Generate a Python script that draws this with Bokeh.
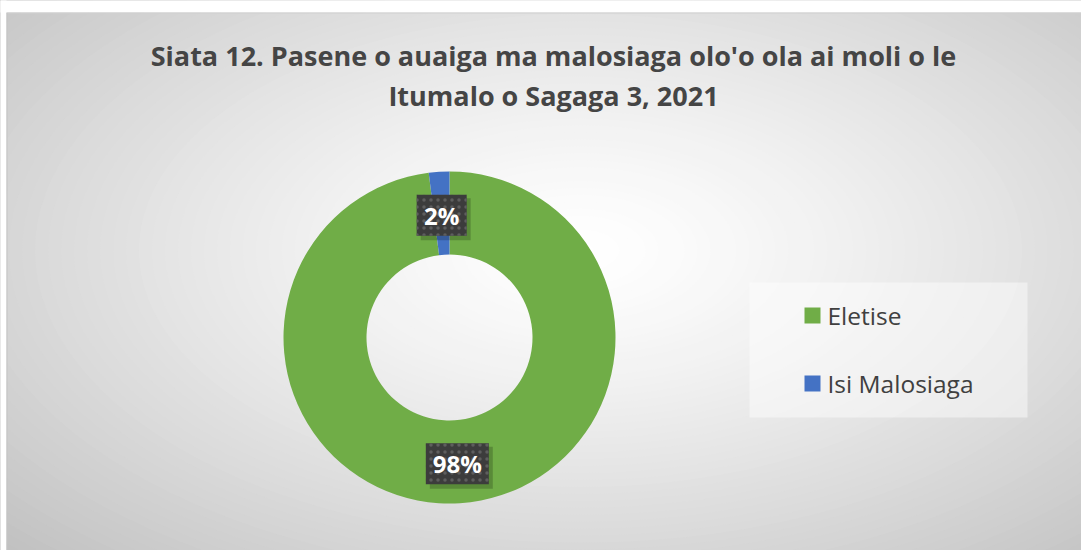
import numpy as np
from bokeh.plotting import figure
from bokeh.models import Range1d, ColumnDataSource
from bokeh.core.properties import value
from bokeh.embed import file_html
from bokeh.resources import INLINE

# ---------------- data ----------------
categories = ["Eletise", "Isi Malosiaga"]
percents = [98, 2]
colors = ["#70AD47", "#4472C4"]
title_lines = ["Siata 12. Pasene o auaiga ma malosiaga olo'o ola ai moli o le",
               "Itumalo o Sagaga 3, 2021"]

# ---------------- layout ----------------
W, H = 1081, 550


def Y(iy):
    """image-y (top-down) -> data-y (bottom-up)"""
    return H - iy


p = figure(width=W, height=H, x_range=Range1d(0, W), y_range=Range1d(0, H),
           output_backend="svg", toolbar_location=None, min_border=0,
           x_axis_location=None, y_axis_location=None)
p.grid.visible = False
p.outline_line_color = None
p.background_fill_color = "white"
p.border_fill_color = "white"

# ---- background radial gradient (chart area) ----
gcx, gcy = 580, Y(250)
ga, gb = 560, 300
ts = np.linspace(1.6, 0.0, 70)[:-1]
for t in ts:
    g = 255 - 60 * min(t / 1.4, 1.15) ** 1.3
    g = int(max(185, min(255, round(g))))
    col = "#%02x%02x%02x" % (g, g, g)
    p.ellipse(x=gcx, y=gcy, width=2 * ga * t, height=2 * gb * t,
              fill_color=col, line_color=None)

# white page strip around the chart area + chart border
p.quad(left=-5, right=1200, bottom=Y(12), top=H + 5, fill_color="white", line_color=None)
p.quad(left=-5, right=6, bottom=-5, top=H + 5, fill_color="white", line_color=None)
p.segment(x0=6, y0=Y(12.5), x1=1200, y1=Y(12.5), line_color="#d0d0d0", line_width=1)
p.segment(x0=6.5, y0=Y(12.5), x1=6.5, y1=-5, line_color="#c4c4c4", line_width=1)

# ---- donut ----
cx, cy = 449, Y(337)
r_out, r_in = 166, 83
vals = np.array(percents, dtype=float)
frac = vals / vals.sum()
cum_after = np.cumsum(frac)
cum_before = cum_after - frac
start = np.pi / 2 - 2 * np.pi * cum_before
end = np.pi / 2 - 2 * np.pi * cum_after
src = ColumnDataSource(dict(cat=categories, val=percents, color=colors,
                            start=start, end=end))
p.annular_wedge(x=cx, y=cy, inner_radius=r_in, outer_radius=r_out,
                start_angle="start", end_angle="end", direction="clock",
                fill_color="color", line_color=None, source=src)

# ---- data labels ----
mid = (start + end) / 2
r_mid = (r_in + r_out) / 2
lx = cx + r_mid * np.cos(mid)
ly = cy + r_mid * np.sin(mid) - 2
labels = ["%d%%" % v for v in percents]
bw = [13 * len(s) + 24 for s in labels]
lsrc = ColumnDataSource(dict(x=lx, y=ly, text=labels, w=bw,
                             sx=lx + 4, sy=ly - 4))
# shadow
p.rect(x="sx", y="sy", width="w", height=42, width_units="screen", height_units="screen",
       fill_color="black", fill_alpha=0.2, line_color=None, source=lsrc)
p.rect(x="x", y="y", width="w", height=41, width_units="screen", height_units="screen",
       fill_color="#3c3c3c", line_color=None, hatch_pattern="dot", hatch_color="#5e5e5e",
       hatch_scale=7, hatch_weight=1.5, source=lsrc)
p.text(x="x", y="y", text="text", text_align="center", text_baseline="middle",
       text_font=value("Open Sans"), text_font_style="bold", text_font_size="24px",
       text_color="white", source=lsrc)

# ---- legend ----
p.quad(left=749, right=1027, bottom=Y(417), top=Y(282),
       fill_color="white", fill_alpha=0.45, line_color=None)
leg_y = [Y(315 + 68 * i) for i in range(len(categories))]
legsrc = ColumnDataSource(dict(x=[812] * len(categories), tx=[827] * len(categories),
                               y=leg_y, cat=categories, color=colors))
p.rect(x="x", y="y", width=16, height=16, fill_color="color", line_color=None, source=legsrc)
p.text(x="tx", y="y", text="cat", text_align="left", text_baseline="middle",
       text_font=value("Open Sans"), text_font_size="24.5px", text_color="#404040",
       source=legsrc)

# ---- title ----
tsrc = ColumnDataSource(dict(x=[553, 553], y=[Y(55), Y(95)], text=title_lines))
p.text(x="x", y="y", text="text", text_align="center", text_baseline="middle",
       text_font=value("Open Sans"), text_font_style="bold", text_font_size="27px",
       text_color="#454545", source=tsrc)

open("out.html", "w").write(file_html(p, INLINE))
